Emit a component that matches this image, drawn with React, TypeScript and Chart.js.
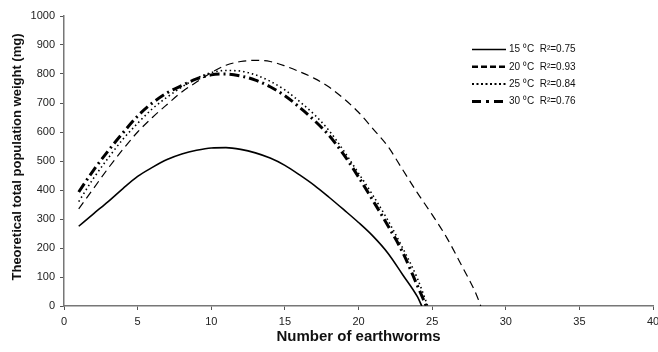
import React, { useEffect, useRef } from "react";
import { Chart, registerables } from "chart.js";

Chart.register(...registerables);

// ---------- data ----------
const X_TITLE = "Number of earthworms";
const Y_TITLE = "Theoretical total population weight (mg)";

const seriesLabels = [
  "15 \u2070C  R\u00B2=0.75",
  "20 \u2070C  R\u00B2=0.93",
  "25 \u2070C  R\u00B2=0.84",
  "30 \u2070C  R\u00B2=0.76",
];

const x15 = [1, 2, 3, 4, 5, 6, 7, 8, 9, 10, 11, 12, 13, 14, 15, 16, 17, 18, 19, 20, 21, 22, 23, 24, 24.3];
const y15 = [275, 318, 360, 405, 447, 478, 505, 524, 537, 545, 546, 540, 528, 510, 485, 452, 416, 375, 332, 288, 240, 182, 108, 32, 0];

const x20 = [1, 2, 3, 4, 5, 6, 7, 8, 9, 10, 11, 12, 13, 14, 15, 16, 17, 18, 19, 20, 21, 22, 23, 24, 25, 26, 27, 28, 28.3];
const y20 = [335, 405, 475, 540, 600, 650, 695, 738, 772, 805, 830, 843, 847, 843, 828, 808, 785, 755, 715, 668, 610, 550, 470, 390, 315, 235, 140, 40, 0];

const x25 = [1, 2, 3, 4, 5, 6, 7, 8, 9, 10, 11, 12, 13, 14, 15, 16, 17, 18, 19, 20, 21, 22, 23, 24, 24.7];
const y25 = [360, 440, 510, 575, 630, 680, 720, 755, 785, 805, 812, 810, 797, 775, 745, 705, 660, 605, 535, 458, 380, 295, 200, 95, 0];

const x30 = [1, 2, 3, 4, 5, 6, 7, 8, 9, 10, 11, 12, 13, 14, 15, 16, 17, 18, 19, 20, 21, 22, 23, 24, 24.6];
const y30 = [393, 468, 535, 597, 655, 700, 735, 760, 783, 797, 800, 793, 779, 756, 725, 685, 640, 588, 522, 445, 362, 277, 185, 70, 0];

const X_MIN = 0;
const X_MAX = 40;
const X_STEP = 5;
const Y_MIN = 0;
const Y_MAX = 1000;
const Y_STEP = 100;

const zip = (xs: number[], ys: number[]) => xs.map((x, i) => ({ x, y: ys[i] }));

const FONT = "'Liberation Sans', Arial, Helvetica, sans-serif";
const CANVAS_W = 674;
const CANVAS_H = 352;

const overlayPlugin = {
  id: "overlay",
  afterDraw(chart: any) {
    const ctx = chart.ctx as CanvasRenderingContext2D;
    const area = chart.chartArea;
    ctx.save();
    ctx.fillStyle = "#111";
    ctx.textAlign = "center";
    ctx.textBaseline = "middle";
    ctx.font = `bold 15px ${FONT}`;
    ctx.fillText(X_TITLE, (area.left + area.right) / 2, 337);
    ctx.translate(17, 157);
    ctx.rotate(-Math.PI / 2);
    ctx.font = `bold 13px ${FONT}`;
    ctx.fillText(Y_TITLE, 0, 0);
    ctx.restore();

    // legend
    chart.data.datasets.forEach((ds: any, i: number) => {
      const y = 49.5 + i * 17.3;
      ctx.save();
      ctx.strokeStyle = ds.borderColor;
      ctx.lineWidth = ds.legendWidth ?? ds.borderWidth;
      ctx.setLineDash(ds.legendDash ?? ds.borderDash ?? []);
      ctx.beginPath();
      ctx.moveTo(472, y);
      ctx.lineTo(506, y);
      ctx.stroke();
      ctx.setLineDash([]);
      ctx.fillStyle = "#111";
      ctx.font = `10px ${FONT}`;
      ctx.textAlign = "left";
      ctx.textBaseline = "middle";
      ctx.fillText(ds.label, 509, y);
      ctx.restore();
    });
  },
};

export default function App() {
  const ref = useRef<HTMLCanvasElement | null>(null);

  useEffect(() => {
    if (!ref.current) return;
    const common = { pointRadius: 0, cubicInterpolationMode: "monotone", borderColor: "#000" };
    const chart = new Chart(ref.current, {
      type: "line",
      data: {
        datasets: [
          { ...common, label: seriesLabels[0], data: zip(x15, y15), borderWidth: 1.6, borderDash: [] } as any,
          {
            ...common,
            label: seriesLabels[1],
            data: zip(x20, y20),
            borderWidth: 1.2,
            borderDash: [8, 5],
            legendDash: [6, 3],
            legendWidth: 2.5,
          } as any,
          {
            ...common,
            label: seriesLabels[2],
            data: zip(x25, y25),
            borderWidth: 1.6,
            borderDash: [1.5, 3],
            legendDash: [2, 2.5],
            legendWidth: 2,
          } as any,
          {
            ...common,
            label: seriesLabels[3],
            data: zip(x30, y30),
            borderWidth: 3,
            borderDash: [10, 4, 2, 4],
            legendDash: [9, 5, 3, 5],
          } as any,
        ],
      },
      options: {
        responsive: false,
        animation: false,
        layout: { padding: { top: 16, right: CANVAS_W - 653, left: 0, bottom: 0 } },
        plugins: {
          legend: { display: false },
          tooltip: { enabled: false },
          title: { display: false },
        },
        scales: {
          x: {
            type: "linear",
            min: X_MIN,
            max: X_MAX,
            afterFit: (s: any) => {
              s.height = 46;
            },
            ticks: {
              stepSize: X_STEP,
              color: "#222",
              padding: 5,
              maxRotation: 0,
              font: { family: FONT, size: 11 },
              callback: (v: any) => String(v),
            },
            grid: {
              display: true,
              drawOnChartArea: false,
              drawTicks: true,
              tickLength: 4,
              color: "#555",
            },
            border: { display: true, color: "#777", width: 1.5 },
          },
          y: {
            type: "linear",
            min: Y_MIN,
            max: Y_MAX,
            afterFit: (s: any) => {
              s.width = 64;
            },
            ticks: {
              stepSize: Y_STEP,
              color: "#222",
              padding: 5,
              font: { family: FONT, size: 11 },
              callback: (v: any) => String(v),
            },
            grid: {
              display: true,
              drawOnChartArea: false,
              drawTicks: true,
              tickLength: 4,
              color: "#555",
            },
            border: { display: true, color: "#777", width: 1.5 },
          },
        },
      },
      plugins: [overlayPlugin],
    });
    return () => chart.destroy();
  }, []);

  return (
    <div style={{ position: "fixed", left: 0, top: 0, width: 658, height: 352, background: "#fff", overflow: "hidden" }}>
      <canvas ref={ref} width={CANVAS_W} height={CANVAS_H} style={{ display: "block" }} />
    </div>
  );
}
